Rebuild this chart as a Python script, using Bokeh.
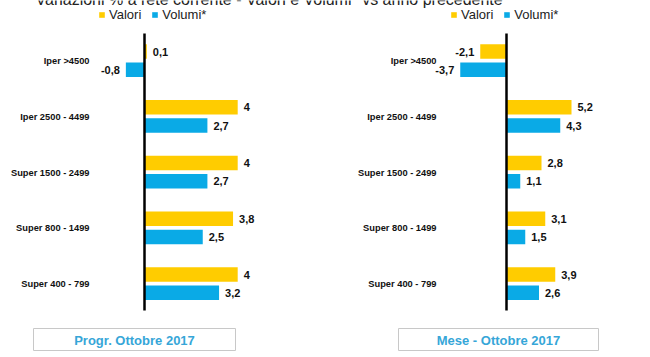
from bokeh.plotting import figure
from bokeh.models import ColumnDataSource, Range1d, Legend, LegendItem
from bokeh.transform import dodge
from bokeh.core.properties import value
from bokeh.embed import file_html
from bokeh.resources import INLINE

# ---------------- data ----------------
categories = ["Iper >4500", "Iper 2500 - 4499", "Super 1500 - 2499", "Super 800 - 1499", "Super 400 - 799"]
progr_valori = [0.1, 4, 4, 3.8, 4]
progr_volumi = [-0.8, 2.7, 2.7, 2.5, 3.2]
mese_valori = [-2.1, 5.2, 2.8, 3.1, 3.9]
mese_volumi = [-3.7, 4.3, 1.1, 1.5, 2.6]
series_names = ["Valori", "Volumi*"]
panel_titles = ["Progr. Ottobre 2017", "Mese - Ottobre 2017"]
main_title = "Variazioni % a rete corrente - Valori e Volumi* vs anno precedente"

# ---------------- layout ----------------
W, H = 650, 357
LX0, LS = 144, 23.3      # left panel: zero position (px), px per unit
RX0, RS = 506, 12.5      # right panel
Y0, YS = 60.5, 55.75     # first group centre (px from top), px per category

YELLOW = "#FFCC00"
BLUE = "#0AAAE6"
FONT = "Liberation Sans"

p = figure(width=W, height=H, output_backend="svg", toolbar_location=None,
           x_axis_type=None, y_axis_type=None, min_border=0,
           x_range=Range1d(-LX0 / LS, (W - LX0) / LS),
           y_range=Range1d((H - Y0) / YS, -Y0 / YS))
p.extra_x_ranges = {"r": Range1d(-RX0 / RS, (W - RX0) / RS)}
p.outline_line_color = None
p.grid.visible = False
p.background_fill_color = "white"
p.border_fill_color = "white"


def lx(px):
    return (px - LX0) / LS


def rx(px):
    return (px - RX0) / RS


def yy(py):
    return (py - Y0) / YS


def fmt(v):
    s = ("%g" % v).replace(".", ",")
    return s


OFF_V, OFF_W, BAR_H = -9.5 / YS, 8.8 / YS, 14.5 / YS

panels = [
    (progr_valori, progr_volumi, "default", lx, 89, (33, 235), 98),
    (mese_valori, mese_volumi, "r", rx, 436, (398, 598), 450),
]

for vals, vols, rname, fx, lab_px, box_px, leg_px in panels:
    src = ColumnDataSource(dict(
        idx=list(range(len(categories))),
        cat=categories,
        valori=vals,
        volumi=vols,
        tv=[fmt(v) for v in vals],
        tw=[fmt(v) for v in vols],
        av=["left" if v >= 0 else "right" for v in vals],
        aw=["left" if v >= 0 else "right" for v in vols],
        ov=[6 if v >= 0 else -6 for v in vals],
        ow=[6 if v >= 0 else -6 for v in vols],
    ))
    rv = p.hbar(y=dodge("idx", OFF_V), left=0, right="valori", height=BAR_H,
                fill_color=YELLOW, line_color=None, source=src, x_range_name=rname)
    rw = p.hbar(y=dodge("idx", OFF_W), left=0, right="volumi", height=BAR_H,
                fill_color=BLUE, line_color=None, source=src, x_range_name=rname)
    # value labels
    p.text(x="valori", y=dodge("idx", OFF_V), text="tv", text_align="av", x_offset="ov",
           text_baseline="middle", text_font=value(FONT), text_font_style="bold",
           text_font_size="11px", text_color="#111111", source=src, x_range_name=rname)
    p.text(x="volumi", y=dodge("idx", OFF_W), text="tw", text_align="aw", x_offset="ow",
           text_baseline="middle", text_font=value(FONT), text_font_style="bold",
           text_font_size="11px", text_color="#111111", source=src, x_range_name=rname)
    # category labels
    p.text(x=fx(lab_px), y="idx", text="cat", text_align="right", text_baseline="middle",
           text_font=value(FONT), text_font_style="bold", text_font_size="9.3px",
           text_color="#111111", source=src, x_range_name=rname)
    # axis line
    p.segment(x0=0, x1=0, y0=yy(33), y1=yy(310), line_color="black", line_width=2.5,
              x_range_name=rname)
    # legend
    leg = Legend(items=[LegendItem(label=series_names[0], renderers=[rv]),
                        LegendItem(label=series_names[1], renderers=[rw])],
                 orientation="horizontal", location=(leg_px, H - 22),
                 glyph_width=7, glyph_height=7, label_height=14, label_standoff=4,
                 spacing=10, padding=0, margin=0, border_line_color=None,
                 background_fill_alpha=0, label_text_font=FONT,
                 label_text_font_size="13px", label_text_color="#222222")
    p.add_layout(leg)

# panel boxes
for i, (fx, rname, (b0, b1)) in enumerate([(lx, "default", panels[0][5]), (rx, "r", panels[1][5])]):
    p.quad(left=fx(b0), right=fx(b1), top=yy(328), bottom=yy(350), fill_color="white",
           line_color="#C8C8C8", line_width=1, x_range_name=rname)
    p.text(x=fx((b0 + b1) / 2), y=yy(339.5), text=[panel_titles[i]], text_align="center",
           text_baseline="middle", text_font=value(FONT), text_font_style="bold",
           text_font_size="13px", text_color="#36A6D8", x_range_name=rname)

# cut-off title at the very top
p.text(x=lx(35), y=yy(-1.5), text=[main_title], text_align="left", text_baseline="alphabetic",
       text_font=value(FONT), text_font_size="16px", text_color="#222222")

open("out.html", "w").write(file_html(p, INLINE))
